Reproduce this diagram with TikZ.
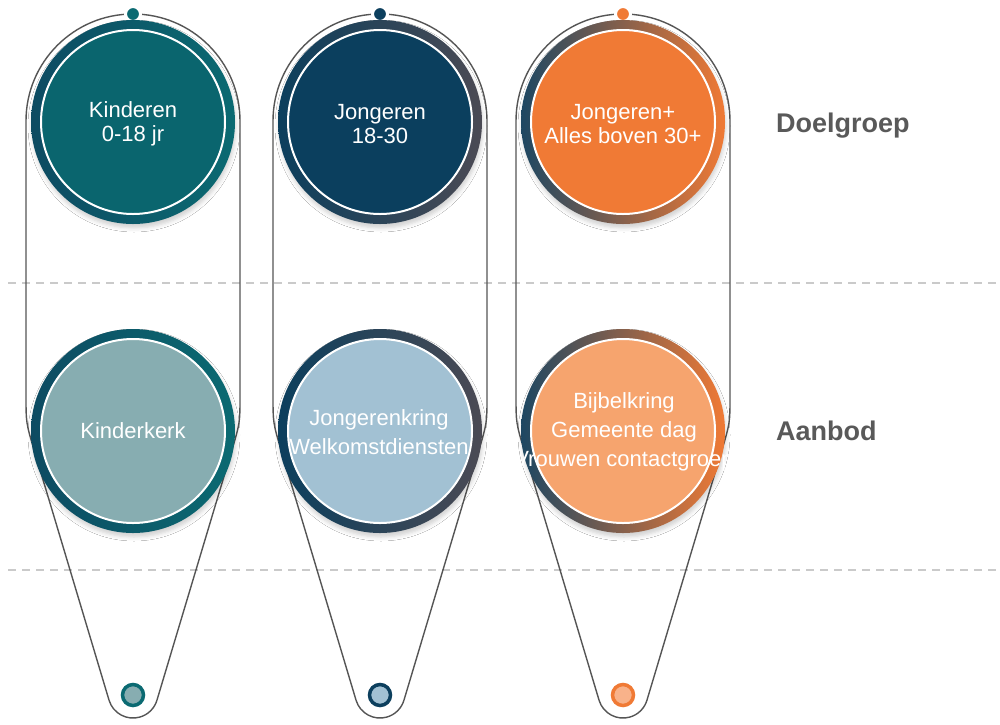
\documentclass[tikz,border=0pt]{standalone}
\usepackage{fontspec}
\setmainfont{Liberation Sans}
\usetikzlibrary{shadows.blur}
\definecolor{cAringL}{HTML}{0D4B62}
\definecolor{cAringR}{HTML}{0B6A72}
\definecolor{cAfill}{HTML}{0A656E}
\definecolor{cAlight}{HTML}{87ADB1}
\definecolor{cBringL}{HTML}{0C3F5D}
\definecolor{cBringR}{HTML}{4B4A54}
\definecolor{cBfill}{HTML}{0B3F5E}
\definecolor{cBlight}{HTML}{A2C1D3}
\definecolor{cCringL}{HTML}{1E4762}
\definecolor{cCringR}{HTML}{F07A35}
\definecolor{cCfill}{HTML}{F07A35}
\definecolor{cClight}{HTML}{F6A46E}
\definecolor{cCdot}{HTML}{F8B28A}
\definecolor{outlinegray}{HTML}{555555}
\definecolor{sepgray}{HTML}{CACACA}
\definecolor{labgray}{HTML}{595959}
\newcommand\capsuleoutline[1]{%
  \draw[outlineline] (#1+107,395) -- (#1+107,121)
    arc[start angle=0,end angle=-180,radius=107]
    -- (#1-107,395) .. controls (#1-107,423) .. (#1-98.39,451.74)
    -- (#1-23.95,700.2)
    arc[start angle=163.32,end angle=16.68,radius=25]
    -- (#1+98.39,451.74) .. controls (#1+107,423) .. (#1+107,395) -- cycle;}
\newcommand\ringdisc[5]{%
  \shade[blur shadow={shadow xshift=1pt,shadow yshift=-4pt,shadow blur radius=4pt,shadow opacity=18},
         left color=#3, right color=#4] (#1,#2) circle[radius=102];
  \fill[#5] (#1,#2) circle[radius=92];
  \draw[white, line width=2pt] (#1,#2) circle[radius=92];}
\begin{document}
\begin{tikzpicture}[x=1pt,y=-1pt,
  outlineline/.style={draw=outlinegray, line width=1.4pt},
  sepline/.style={draw=sepgray, line width=1.5pt, dash pattern=on 8pt off 6pt},
  toptext/.style={text=white, align=center, font=\fontsize{22}{24}\selectfont, inner sep=0pt},
  bottext/.style={text=white, align=center, font=\fontsize{22}{29}\selectfont, inner sep=0pt},
  rowlabel/.style={text=labgray, font=\bfseries\fontsize{27}{32}\selectfont, inner sep=0pt, anchor=base west},
  topdot/.style={draw=white, line width=3pt},
  botdot/.style={line width=3.5pt}]
\useasboundingbox (0,0) rectangle (1000,724);
\fill[white] (0,0) rectangle (1000,724);
% separators
\coordinate (s1a) at (8,283); \coordinate (s1b) at (1000,283);
\coordinate (s2a) at (8,570); \coordinate (s2b) at (1000,570);
\draw[sepline] (s1a) -- (s1b);
\draw[sepline] (s2a) -- (s2b);
% outlines
\capsuleoutline{133}
\capsuleoutline{380}
\capsuleoutline{623}
% top dots
\fill[cAringR, topdot] (133,14) circle[radius=7.5];
\fill[cBringL, topdot] (380,14) circle[radius=7.5];
\fill[cCringR, topdot] (623,14) circle[radius=7.5];
% discs
\ringdisc{133}{122}{cAringL}{cAringR}{cAfill}
\ringdisc{380}{122}{cBringL}{cBringR}{cBfill}
\ringdisc{623}{122}{cCringL}{cCringR}{cCfill}
\ringdisc{133}{431}{cAringL}{cAringR}{cAlight}
\ringdisc{380}{431}{cBringL}{cBringR}{cBlight}
\ringdisc{623}{431}{cCringL}{cCringR}{cClight}
% bottom dots
\filldraw[botdot, fill=cAlight, draw=cAringR] (133,695) circle[radius=10.5];
\filldraw[botdot, fill=cBlight, draw=cBringL] (380,695) circle[radius=10.5];
\filldraw[botdot, fill=cCdot, draw=cCringR] (623,695) circle[radius=10.5];
% texts
\node[toptext] (t1) at (133,124) {Kinderen\\0-18 jr};
\node[toptext] (t2) at (380,124) {Jongeren\\18-30};
\node[toptext] (t3) at (623,124) {Jongeren+\\Alles boven 30+};
\node[bottext] (b1) at (133,431) {Kinderkerk};
\node[bottext] (b2) at (379,432) {Jongerenkring\\Welkomstdiensten};
\node[bottext] (b3) at (624,432) {Bijbelkring\\Gemeente dag\\Vrouwen contactgroep};
\node[rowlabel] (doel) at (776,132) {Doelgroep};
\node[rowlabel] (aanb) at (776,440) {Aanbod};
\end{tikzpicture}
\end{document}
